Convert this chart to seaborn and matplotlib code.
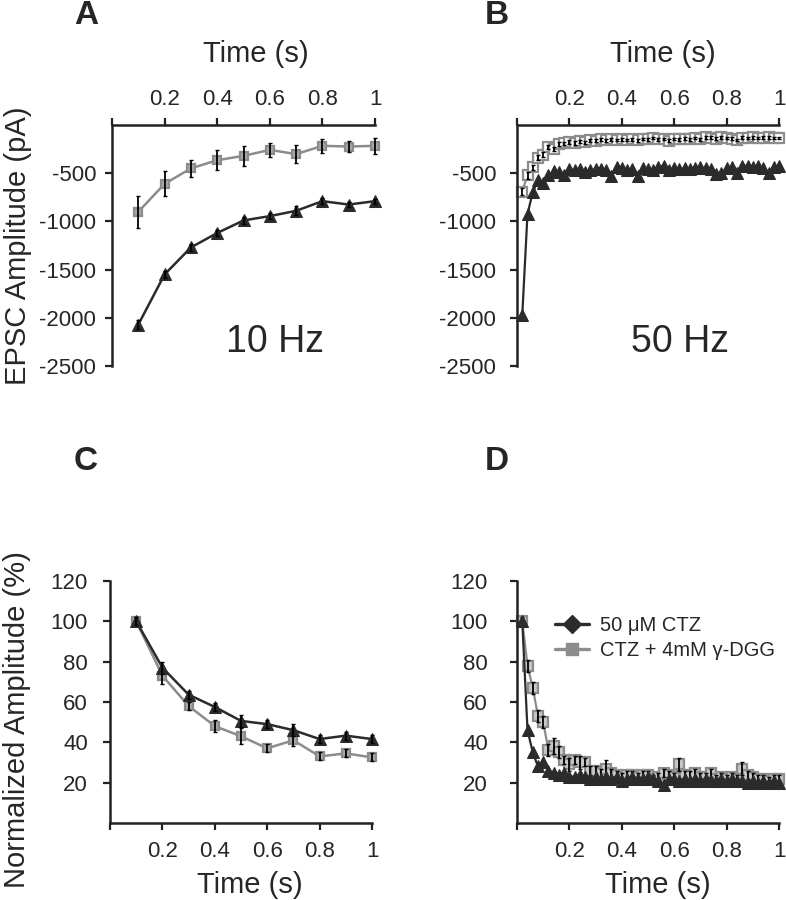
import numpy as np
import matplotlib.pyplot as plt
import seaborn as sns
from matplotlib.lines import Line2D

sns.set_style("ticks")
plt.rcParams['font.family'] = ['Liberation Sans', 'DejaVu Sans']
plt.rcParams['axes.unicode_minus'] = False

# --- 10 Hz train (A, C) ---
t10 = [0.1, 0.2, 0.3, 0.4, 0.5, 0.6, 0.7, 0.8, 0.9, 1.0]
ctz_10 = [-2070, -1550, -1270, -1120, -990, -945, -890, -790, -825, -790]
ctz_10_err = [50, 40, 35, 30, 40, 30, 45, 30, 30, 25]
dgg_10 = [-900, -610, -450, -365, -320, -258, -302, -216, -223, -216]
dgg_10_err = [165, 130, 90, 105, 100, 72, 95, 75, 60, 80]

ctz_10_norm = [100, 77, 63.6, 57.5, 50.6, 49, 46, 41.6, 43.3, 41.6]
ctz_10_norm_err = [2, 3, 2, 2, 3, 2, 3, 2, 2, 2]
dgg_10_norm = [100, 73, 58, 48, 43, 37, 41, 33, 34.5, 32.5]
dgg_10_norm_err = [2, 4, 2, 3, 4, 2, 3, 2, 2, 2]

# --- 50 Hz train (B, D) ---
t50 = [0.02, 0.04, 0.06, 0.08, 0.10, 0.12, 0.14, 0.16, 0.18, 0.20,
       0.22, 0.24, 0.26, 0.28, 0.30, 0.32, 0.34, 0.36, 0.38, 0.40,
       0.42, 0.44, 0.46, 0.48, 0.50, 0.52, 0.54, 0.56, 0.58, 0.60,
       0.62, 0.64, 0.66, 0.68, 0.70, 0.72, 0.74, 0.76, 0.78, 0.80,
       0.82, 0.84, 0.86, 0.88, 0.90, 0.92, 0.94, 0.96, 0.98, 1.00]
ctz_50 = [-1970, -920, -700, -570, -600, -520, -480, -490, -520, -460,
          -470, -460, -490, -470, -460, -460, -470, -530, -440, -450,
          -470, -460, -530, -450, -460, -470, -440, -420, -470, -450,
          -460, -450, -460, -450, -440, -450, -460, -510, -500, -450,
          -440, -500, -430, -420, -440, -430, -450, -500, -440, -430]
dgg_50 = [-690, -520, -440, -340, -310, -230, -250, -200, -190, -175,
          -185, -170, -180, -160, -165, -150, -160, -150, -155, -150,
          -155, -150, -160, -145, -150, -135, -150, -145, -165, -145,
          -150, -140, -150, -135, -150, -125, -130, -140, -125, -135,
          -140, -155, -130, -135, -125, -135, -130, -125, -135, -135]
dgg_50_err = [40, 35, 30, 25, 25, 20, 20, 20, 18, 18,
              18, 15, 15, 15, 15, 15, 15, 15, 15, 15,
              15, 15, 15, 15, 15, 15, 15, 15, 15, 15,
              15, 15, 15, 15, 15, 15, 15, 15, 15, 15,
              15, 15, 15, 15, 15, 15, 15, 15, 15, 15]

ctz_50_norm = [100, 46, 35, 28, 30, 26, 25, 24, 25, 23,
               23, 24, 23, 22, 23, 22, 23, 22, 23, 21,
               22, 23, 22, 22, 23, 22, 21, 19, 22, 22,
               21, 22, 21, 22, 21, 22, 21, 21, 22, 21,
               22, 21, 21, 20, 21, 20, 21, 20, 21, 20]
dgg_50_norm = [100, 78, 67, 53, 50, 36, 38, 35, 31, 29,
               31, 30, 30, 26, 26, 25, 27, 25, 24, 23,
               24, 24, 23, 24, 24, 22, 23, 25, 24, 23,
               29, 24, 24, 25, 23, 23, 25, 22, 23, 22,
               23, 22, 27, 24, 23, 22, 22, 21, 22, 22]
dgg_50_norm_err = [2, 3, 3, 3, 3, 3, 4, 3, 2, 3,
                   2, 3, 2, 2, 2, 2, 4, 2, 2, 2,
                   2, 2, 2, 2, 2, 2, 2, 2, 2, 2,
                   3, 2, 2, 2, 2, 2, 2, 2, 2, 2,
                   2, 2, 3, 2, 2, 2, 2, 2, 2, 2]

ticks_x = [0, 0.2, 0.4, 0.6, 0.8, 1.0]
ticklabels_x = ['', '0.2', '0.4', '0.6', '0.8', '1']

dark = '#2b2b2b'
grey = '#8c8c8c'

fig = plt.figure(figsize=(7.86, 9), dpi=100)
axA = fig.add_axes([0.1425, 0.5933, 0.3346, 0.2678])
axB = fig.add_axes([0.6578, 0.5933, 0.3333, 0.2678])
axC = fig.add_axes([0.1400, 0.0856, 0.3333, 0.2689])
axD = fig.add_axes([0.6578, 0.0856, 0.3333, 0.2689])


def draw(ax, t, ctz, dgg, dgg_err, ctz_err=None, sq_face='#a8a8a8',
         ms_tri=8, ms_sq=6, lw=1.8):
    sns.lineplot(x=t, y=dgg, ax=ax, color=grey, lw=lw, marker='s',
                 markersize=ms_sq, markerfacecolor=sq_face,
                 markeredgecolor=grey, markeredgewidth=1.6,
                 errorbar=None, legend=False, zorder=2, clip_on=False)
    ax.errorbar(t, dgg, yerr=dgg_err, fmt='none', ecolor='black',
                elinewidth=1.3, capsize=1.5, zorder=3, clip_on=False)
    sns.lineplot(x=t, y=ctz, ax=ax, color=dark, lw=lw, marker='^',
                 markersize=ms_tri, markerfacecolor=dark,
                 markeredgecolor=dark, errorbar=None, legend=False,
                 zorder=4, clip_on=False)
    if ctz_err is not None:
        ax.errorbar(t, ctz, yerr=ctz_err, fmt='none', ecolor='black',
                    elinewidth=1.3, capsize=1.5, zorder=5, clip_on=False)


draw(axA, t10, ctz_10, dgg_10, dgg_10_err, ctz_10_err)
draw(axB, t50, ctz_50, dgg_50, dgg_50_err, sq_face='white',
     ms_tri=8, ms_sq=6.5, lw=1.6)
draw(axC, t10, ctz_10_norm, dgg_10_norm, dgg_10_norm_err, ctz_10_norm_err)
draw(axD, t50, ctz_50_norm, dgg_50_norm, dgg_50_norm_err, sq_face='#c8c8c8',
     ms_tri=8, ms_sq=6.5, lw=1.6)

for ax in (axA, axB, axC, axD):
    ax.set_xlim(0, 1)
    ax.set_xticks(ticks_x)
    ax.set_xticklabels(ticklabels_x)
    ax.tick_params(labelsize=16, width=1.6, length=5, color='#222222')
    for s in ax.spines.values():
        s.set_linewidth(1.8)
        s.set_color('#222222')
    ax.set_facecolor('none')

for ax in (axA, axB):
    ax.set_ylim(-2500, 0)
    ax.set_yticks([-2500, -2000, -1500, -1000, -500])
    ax.xaxis.tick_top()
    ax.xaxis.set_label_position('top')
    ax.set_xlabel('Time (s)', fontsize=21)
    ax.tick_params(axis='x', pad=6)
    ax.spines['bottom'].set_visible(False)
    ax.spines['right'].set_visible(False)
axA.xaxis.set_label_coords(0.548, 1.261)
axB.xaxis.set_label_coords(0.555, 1.261)

for ax in (axC, axD):
    ax.set_ylim(0, 120)
    ax.set_yticks([20, 40, 60, 80, 100, 120])
    ax.set_xlabel('Time (s)', fontsize=21)
    ax.tick_params(axis='x', pad=8)
    ax.spines['top'].set_visible(False)
    ax.spines['right'].set_visible(False)
axC.xaxis.set_label_coords(0.534, -0.2)
axD.xaxis.set_label_coords(0.538, -0.2)

axA.tick_params(axis='y', pad=6.5)
axB.tick_params(axis='y', pad=10)
axC.tick_params(axis='y', pad=11)
axD.tick_params(axis='y', pad=16)

axA.set_ylabel('EPSC Amplitude (pA)', fontsize=21)
axA.yaxis.set_label_coords(-0.305, 0.5)
axC.set_ylabel('Normalized Amplitude (%)', fontsize=21)
axC.yaxis.set_label_coords(-0.302, 0.426)

fig.text(275 / 786, 1 - 342 / 900, '10 Hz', fontsize=27, ha='center', va='center')
fig.text(680 / 786, 1 - 342 / 900, '50 Hz', fontsize=27, ha='center', va='center')

for lab, x, y in [('A', 86, 16), ('B', 497, 16), ('C', 86, 462), ('D', 497, 462)]:
    fig.text(x / 786, 1 - y / 900, lab, fontsize=24, fontweight='bold',
             ha='center', va='center')

handles = [
    Line2D([], [], color=dark, lw=2.4, marker='D', markersize=9,
           markerfacecolor=dark, markeredgecolor=dark),
    Line2D([], [], color=grey, lw=2.4, marker='s', markersize=9,
           markerfacecolor=grey, markeredgecolor=grey),
]
axD.legend(handles, ['50 \u03bcM CTZ', 'CTZ + 4mM \u03b3-DGG'],
           loc='upper left', bbox_to_anchor=(0.115, 0.89), frameon=False,
           fontsize=14.5, handlelength=1.7, handletextpad=0.5,
           labelspacing=0.3, borderaxespad=0)

fig.savefig('out.png', dpi=100)
